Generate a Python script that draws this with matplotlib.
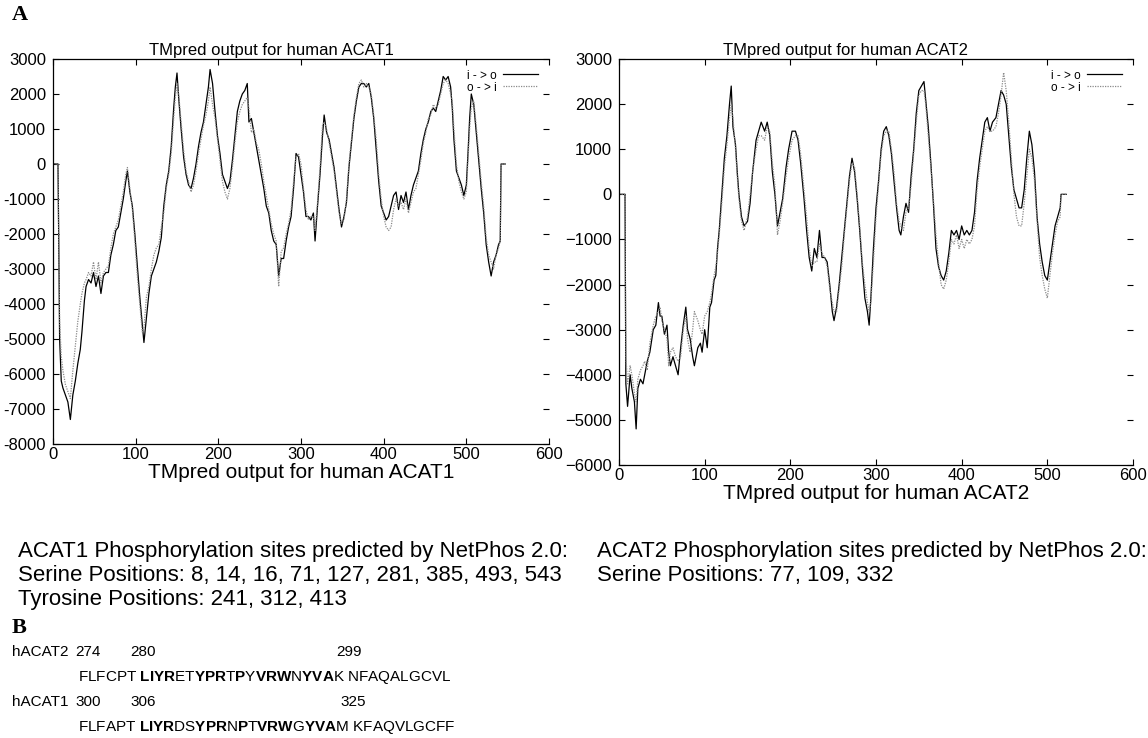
import matplotlib
matplotlib.use('Agg')
import matplotlib.pyplot as plt

plt.rcParams['font.family'] = ['Liberation Sans', 'DejaVu Sans']
plt.rcParams['axes.unicode_minus'] = False
plt.rcParams['mathtext.fontset'] = 'custom'
plt.rcParams['mathtext.rm'] = 'Liberation Sans'
plt.rcParams['mathtext.bf'] = 'Liberation Sans:bold'

# ACAT1 hydropathy profile (TMpred), inside->outside and outside->inside
acat1_pos = [0, 6, 7, 8, 10, 12, 15, 18, 21, 24, 27, 30, 33, 35, 38, 40, 43, 46, 49, 52,
             55, 58, 61, 64, 67, 70, 73, 76, 79, 82, 85, 88, 90, 93, 96, 99, 102, 105, 108, 110,
             113, 116, 119, 122, 125, 128, 131, 134, 137, 140, 143, 146, 148, 150, 152, 155, 158, 161, 164, 167,
             170, 173, 176, 179, 182, 185, 188, 190, 193, 196, 199, 202, 205, 208, 211, 214, 217, 220, 223, 226,
             229, 232, 235, 237, 240, 243, 246, 249, 252, 255, 258, 261, 264, 267, 270, 273, 276, 279, 282, 285,
             288, 291, 294, 297, 300, 303, 306, 309, 312, 315, 317, 320, 323, 326, 328, 331, 334, 337, 340, 343,
             346, 349, 352, 355, 358, 361, 364, 367, 370, 373, 376, 379, 382, 385, 388, 391, 394, 397, 400, 403,
             406, 409, 412, 415, 418, 421, 424, 427, 430, 433, 436, 439, 442, 445, 448, 451, 454, 457, 460, 463,
             466, 469, 472, 475, 478, 481, 483, 485, 488, 491, 494, 497, 500, 502, 504, 506, 509, 512, 515, 518,
             521, 524, 527, 530, 533, 536, 539, 541, 542, 547]
acat1_io = [0, 0, -2300, -5000, -6200, -6400, -6600, -6800, -7300, -6600, -6200, -5700, -5300, -4800, -3900, -3500, -3300, -3400, -3100, -3500,
            -3200, -3700, -3200, -3100, -3100, -2600, -2300, -1900, -1800, -1400, -1000, -500, -200, -800, -1200, -2000, -2900, -3800, -4600, -5100,
            -4400, -3700, -3200, -3000, -2800, -2500, -2100, -1200, -600, -200, 500, 1600, 2200, 2600, 1900, 1000, 200, -300, -600, -700,
            -400, 0, 500, 900, 1200, 1700, 2200, 2700, 2300, 1500, 800, 300, -300, -500, -700, -500, 100, 800, 1500, 1800,
            2000, 2100, 2300, 1200, 1300, 900, 500, 100, -300, -700, -1200, -1400, -1900, -2200, -2300, -3200, -2700, -2700, -2200, -1800,
            -1500, -700, 300, 200, -300, -800, -1500, -1500, -1600, -1400, -2200, -1200, -300, 800, 1400, 900, 700, 300, -100, -700,
            -1300, -1800, -1500, -1100, -100, 600, 1300, 1800, 2200, 2300, 2300, 2200, 2300, 1900, 1300, 400, -500, -1200, -1400, -1600,
            -1500, -1200, -900, -800, -1300, -900, -1100, -800, -1300, -900, -600, -400, -200, 300, 700, 1000, 1200, 1500, 1600, 1500,
            1800, 2100, 2500, 2400, 2500, 2200, 1600, 700, -200, -400, -600, -900, -600, 300, 1300, 2000, 1700, 900, 100, -700,
            -1400, -2300, -2800, -3200, -2800, -2600, -2300, -2200, 0, 0]
acat1_oi = [0, 0, -2300, -4500, -5500, -5900, -6300, -6500, -6700, -5900, -5200, -4500, -4000, -3700, -3400, -3300, -3100, -3200, -2800, -3300,
            -2800, -3400, -3100, -3000, -2900, -2400, -2000, -1800, -1600, -1200, -800, -300, -100, -700, -1300, -2200, -3200, -4000, -4800, -4700,
            -3800, -3500, -3000, -2600, -2400, -2300, -1800, -1400, -700, -300, 300, 1300, 1900, 2300, 2000, 1200, 400, -200, -500, -800,
            -600, -200, 300, 700, 1100, 1400, 1800, 2200, 1700, 1300, 700, 100, -500, -800, -1000, -700, -100, 600, 1200, 1500,
            1700, 1800, 1900, 1600, 900, 1000, 600, 400, 0, -500, -900, -1300, -1700, -2000, -2200, -3500, -2500, -2400, -2000, -1700,
            -1300, -500, 200, 300, 0, -700, -1300, -1600, -1500, -1500, -1900, -1100, -100, 1100, 1200, 1000, 600, 200, -200, -800,
            -1400, -1700, -1600, -1000, 0, 700, 1400, 1900, 2300, 2400, 2200, 2300, 2200, 2000, 1400, 700, -300, -1000, -1500, -1800,
            -1900, -1800, -1300, -1000, -1200, -1100, -1300, -1000, -1400, -1100, -800, -700, -300, 100, 600, 900, 1300, 1400, 1700, 1600,
            1700, 2000, 2300, 2400, 2300, 2000, 1800, 1000, 0, -500, -800, -1000, -800, 100, 1000, 1600, 1800, 1100, 300, -500,
            -1200, -2100, -2600, -2800, -3000, -2600, -2400, -2200, 0, 0]

# ACAT2 hydropathy profile
acat2_pos = [0, 7, 8, 10, 13, 15, 18, 20, 22, 25, 28, 30, 33, 36, 40, 43, 46, 48, 50, 53,
             56, 58, 60, 63, 66, 69, 72, 75, 78, 80, 83, 86, 88, 92, 95, 97, 100, 103, 106, 108,
             111, 113, 115, 117, 120, 123, 126, 129, 131, 133, 136, 138, 140, 143, 146, 150, 153, 156, 160, 163,
             166, 170, 173, 176, 179, 182, 185, 188, 191, 195, 198, 202, 206, 209, 212, 216, 219, 222, 225, 228,
             231, 234, 237, 240, 243, 246, 249, 251, 254, 257, 260, 263, 266, 269, 272, 275, 278, 281, 284, 287,
             290, 292, 294, 297, 300, 303, 306, 309, 312, 315, 318, 321, 324, 327, 329, 332, 335, 338, 341, 344,
             347, 350, 353, 356, 358, 361, 364, 367, 370, 373, 376, 379, 382, 385, 388, 391, 394, 397, 400, 403,
             406, 409, 412, 415, 418, 421, 424, 427, 430, 433, 436, 440, 443, 446, 449, 452, 455, 458, 461, 464,
             467, 470, 473, 476, 479, 482, 485, 488, 491, 494, 497, 500, 503, 506, 509, 512, 515, 516, 522]
acat2_io = [0, 0, -4200, -4700, -4000, -4300, -4600, -5200, -4300, -4100, -4200, -4000, -3700, -3500, -3000, -2900, -2400, -2700, -2700, -3100,
            -2900, -3500, -3800, -3600, -3800, -4000, -3400, -2900, -2500, -3000, -3200, -3600, -3800, -3400, -3300, -3500, -3000, -3400, -2500, -2400,
            -1900, -1800, -1200, -800, 0, 800, 1300, 2000, 2400, 1500, 1100, 500, 0, -500, -700, -600, -200, 500, 1200, 1400,
            1600, 1400, 1600, 1300, 500, 0, -700, -400, -100, 600, 1000, 1400, 1400, 1200, 700, -100, -800, -1400, -1700, -1200,
            -1400, -800, -1400, -1400, -1500, -2000, -2600, -2800, -2500, -2000, -1400, -800, -200, 400, 800, 500, -100, -800, -1600, -2300,
            -2600, -2900, -2300, -1200, -300, 300, 1000, 1400, 1500, 1300, 900, 300, -300, -800, -900, -500, -200, -400, 400, 1000,
            1800, 2300, 2400, 2500, 2100, 1500, 700, -200, -1200, -1600, -1800, -1900, -1700, -1300, -800, -900, -800, -1000, -700, -900,
            -800, -900, -800, -400, 300, 800, 1200, 1600, 1700, 1400, 1600, 1700, 2000, 2300, 2200, 2000, 1300, 600, 100, -100,
            -300, -300, 100, 800, 1400, 1100, 500, -500, -1100, -1500, -1800, -1900, -1500, -1100, -700, -500, -300, 0, 0]
acat2_oi = [0, 0, -3600, -4200, -3800, -4000, -4400, -4600, -4100, -3900, -3800, -3700, -3900, -3300, -2900, -2700, -2600, -2500, -2800, -3000,
            -3200, -3800, -3500, -3400, -3600, -3700, -3600, -3000, -2700, -3200, -3500, -3000, -2600, -2800, -3000, -3100, -2700, -2600, -2400, -2200,
            -1800, -1600, -1300, -900, -200, 600, 1100, 1700, 2000, 1700, 1000, 400, -100, -600, -800, -500, 0, 500, 1000, 1300,
            1300, 1200, 1500, 1400, 700, 200, -900, -600, -200, 400, 800, 1200, 1300, 1300, 900, 100, -500, -1200, -1600, -1500,
            -1500, -1100, -1300, -1400, -1600, -2100, -2400, -2600, -2600, -2100, -1600, -900, -300, 300, 700, 600, 0, -700, -1500, -2000,
            -2400, -2600, -2400, -1500, -500, 200, 900, 1300, 1400, 1400, 1000, 500, -200, -600, -700, -800, -400, -300, 200, 900,
            1600, 2200, 2300, 2300, 2000, 1300, 600, -100, -900, -1500, -2000, -2100, -1900, -1500, -1000, -1100, -900, -1200, -1000, -1200,
            -1000, -1100, -1000, -700, 100, 600, 1000, 1400, 1500, 1400, 1400, 1500, 1800, 2200, 2700, 2300, 1600, 800, 0, -500,
            -700, -700, -200, 400, 1000, 800, 300, -600, -1400, -1800, -2100, -2300, -1800, -1300, -900, -600, -500, 0, 0]

acat1_yticks = list(range(-8000, 3001, 1000))
acat2_yticks = list(range(-6000, 3001, 1000))
xticks = [0, 100, 200, 300, 400, 500, 600]

fig = plt.figure(figsize=(11.48, 7.38), dpi=100)
W, H = 1148, 738


def px_axes(x0, y0, x1, y1):
    return fig.add_axes([x0 / W, 1 - y1 / H, (x1 - x0) / W, (y1 - y0) / H])


def setup(ax, pos, io, oi, yticks, ymin, minus):
    ax.plot(pos, io, color='black', lw=0.9, label='i - > o')
    ax.plot(pos, oi, color='#8a8a8a', lw=0.9, ls=(0, (1, 1)), label='o - > i')
    ax.set_xlim(0, 600)
    ax.set_ylim(ymin, 3000)
    ax.set_xticks(xticks)
    ax.set_yticks(yticks)
    ax.set_yticklabels([str(v).replace('-', minus) for v in yticks])
    ax.spines['right'].set_visible(False)
    for s in ['left', 'bottom', 'top']:
        ax.spines[s].set_linewidth(0.9)
    ax.tick_params(direction='in', top=True, right=True, length=4, width=0.8,
                   labelsize=12, pad=2)
    ax.tick_params(axis='y', pad=5)
    ax.legend(loc='upper right', frameon=False, fontsize=8.5, markerfirst=False,
              handlelength=3, handletextpad=0.5, labelspacing=0.0,
              borderaxespad=0.5)
    return ax


ax1 = px_axes(53, 59, 549, 444)
setup(ax1, acat1_pos, acat1_io, acat1_oi, acat1_yticks, -8000, '-')
ax1.set_title('TMpred output for human ACAT1', fontsize=12, pad=3, x=0.44)
ax1.set_xlabel('TMpred output for human ACAT1', fontsize=15, labelpad=1)

ax2 = px_axes(619, 59, 1133, 465)
setup(ax2, acat2_pos, acat2_io, acat2_oi, acat2_yticks, -6000, '\u2212')
ax2.set_title('TMpred output for human ACAT2', fontsize=12, pad=3, x=0.44)
ax2.set_xlabel('TMpred output for human ACAT2', fontsize=15, labelpad=1)

# panel letters
fig.text(12 / W, 1 - 15 / H, 'A', fontsize=16, fontweight='bold',
         family=['Liberation Serif', 'DejaVu Serif'], va='center')
fig.text(12 / W, 1 - 628 / H, 'B', fontsize=16, fontweight='bold',
         family=['Liberation Serif', 'DejaVu Serif'], va='center')

# NetPhos text
txt = 16
fig.text(18 / W, 1 - 551 / H, 'ACAT1 Phosphorylation sites predicted by NetPhos 2.0:', fontsize=txt, va='center')
fig.text(18 / W, 1 - 576 / H, 'Serine Positions: 8, 14, 16, 71, 127, 281, 385, 493, 543', fontsize=txt, va='center')
fig.text(18 / W, 1 - 600 / H, 'Tyrosine Positions: 241, 312, 413', fontsize=txt, va='center')
fig.text(597 / W, 1 - 551 / H, 'ACAT2 Phosphorylation sites predicted by NetPhos 2.0:', fontsize=txt, va='center')
fig.text(597 / W, 1 - 576 / H, 'Serine Positions: 77, 109, 332', fontsize=txt, va='center')

# sequence alignment
seq = 11
fig.text(12 / W, 1 - 652 / H, 'hACAT2', fontsize=seq, va='center')
fig.text(75 / W, 1 - 652 / H, '274', fontsize=seq, va='center')
fig.text(130 / W, 1 - 652 / H, '280', fontsize=seq, va='center')
fig.text(336 / W, 1 - 652 / H, '299', fontsize=seq, va='center')
fig.text(12 / W, 1 - 702 / H, 'hACAT1', fontsize=seq, va='center')
fig.text(75 / W, 1 - 702 / H, '300', fontsize=seq, va='center')
fig.text(130 / W, 1 - 702 / H, '306', fontsize=seq, va='center')
fig.text(340 / W, 1 - 702 / H, '325', fontsize=seq, va='center')

seq2 = (r'FLFCPT $\mathbf{LIYR}$ET$\mathbf{YPR}$T$\mathbf{P}$Y$\mathbf{VRW}$N'
        r'$\mathbf{YVA}$K NFAQALGCVL')
seq1 = (r'FLFAPT $\mathbf{LIYR}$DS$\mathbf{YPR}$N$\mathbf{P}$T$\mathbf{VRW}$G'
        r'$\mathbf{YVA}$M KFAQVLGCFF')
fig.text(78 / W, 1 - 677 / H, seq2, fontsize=seq, va='center')
fig.text(78 / W, 1 - 727 / H, seq1, fontsize=seq, va='center')

fig.savefig('out.png', dpi=100)
